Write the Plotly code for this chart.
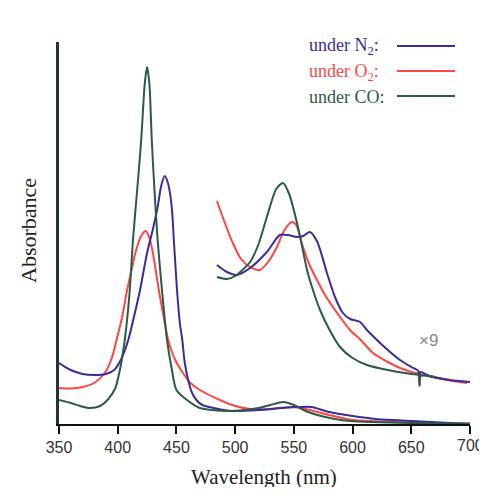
import plotly.graph_objects as go

# ---- main spectra (arbitrary absorbance units) ----
wl_n2 = [350, 360, 370, 380, 390, 397, 403, 409, 414, 419, 425, 430, 434, 437, 440, 443, 446, 448, 450.5,
         453, 455, 457, 460, 463, 467, 472, 478, 490, 500, 520, 540, 555, 565, 580, 600, 620, 650, 700]
ab_n2 = [0.61, 0.54, 0.50, 0.49, 0.50, 0.54, 0.65, 0.84, 1.08, 1.34, 1.71, 1.95, 2.17, 2.38, 2.48, 2.40, 2.17,
         1.80, 1.34, 1.00, 0.84, 0.62, 0.44, 0.32, 0.24, 0.19, 0.17, 0.14, 0.13, 0.14, 0.16, 0.17, 0.17, 0.12,
         0.08, 0.05, 0.03, 0.0]

wl_o2 = [350, 360, 370, 380, 389, 395, 399, 404, 408, 412, 415, 420, 424, 427, 430, 435, 439, 443, 449,
         455.6, 462, 470, 487, 500, 513, 530, 550, 560, 580, 600, 650, 700]
ab_o2 = [0.36, 0.355, 0.37, 0.41, 0.51, 0.66, 0.84, 1.08, 1.34, 1.55, 1.71, 1.88, 1.93, 1.86, 1.71, 1.34,
         1.08, 0.84, 0.64, 0.51, 0.41, 0.34, 0.24, 0.18, 0.15, 0.15, 0.17, 0.15, 0.09, 0.04, 0.015, 0.0]

wl_co = [350, 360, 368, 376, 385, 392, 398, 402, 406, 410, 413, 417, 420, 423, 425, 427, 429, 431, 434,
         438, 442, 446, 450, 459, 470, 480, 498, 520, 530, 541, 550, 560, 570, 585, 598, 650, 700]
ab_co = [0.24, 0.21, 0.18, 0.16, 0.18, 0.25, 0.36, 0.55, 0.84, 1.30, 1.84, 2.40, 2.84, 3.40, 3.57, 3.40,
         2.84, 2.40, 1.84, 1.30, 0.84, 0.55, 0.34, 0.24, 0.16, 0.14, 0.13, 0.16, 0.19, 0.22, 0.19, 0.13,
         0.09, 0.05, 0.03, 0.01, 0.005]

# ---- x9 expanded Q-band region ----
wl_n2_x9 = [484.5, 493, 501.6, 512.7, 527, 538, 545, 552.7, 558, 563.7, 570, 578.2, 585, 591.8, 598, 606.3,
            613, 620.8, 630, 640.4, 650, 656, 657, 658, 665, 683, 700]
ab_n2_x9 = [1.59, 1.52, 1.49, 1.56, 1.72, 1.89, 1.89, 1.87, 1.88, 1.92, 1.82, 1.51, 1.27, 1.11, 1.05, 1.02,
            0.93, 0.84, 0.74, 0.64, 0.57, 0.53, 0.46, 0.52, 0.48, 0.44, 0.42]

wl_o2_x9 = [484.5, 490, 498, 505, 512.7, 521.2, 528, 535.6, 542, 548.4, 552, 557.8, 563, 569.7, 576, 583.3,
            590, 597.8, 607, 617.4, 630, 640.4, 650, 656, 657, 658, 680, 697.4]
ab_o2_x9 = [2.23, 2.05, 1.81, 1.65, 1.57, 1.54, 1.62, 1.77, 1.94, 2.02, 1.99, 1.77, 1.60, 1.44, 1.30, 1.17,
            1.06, 0.94, 0.84, 0.71, 0.62, 0.56, 0.52, 0.50, 0.39, 0.49, 0.44, 0.41]

wl_co_x9 = [484.5, 493, 500, 512.7, 520, 527, 535, 540.8, 546, 552.7, 558, 561.2, 566, 572.3, 580, 589.3,
            600, 612.3, 630, 650, 656, 657, 658, 670]
ab_co_x9 = [1.47, 1.45, 1.48, 1.62, 1.80, 2.07, 2.35, 2.41, 2.30, 2.01, 1.72, 1.54, 1.35, 1.14, 0.95, 0.77,
            0.66, 0.59, 0.54, 0.50, 0.49, 0.38, 0.48, 0.47]

x_ticks = [350, 400, 450, 500, 550, 600, 650, 700]
x_tick_text = ["350", "400", "450", "500", "550", "600", "650", ""]  # last label drawn at the edge below
last_tick_label = "700"

C_N2 = "#3a2c9c"
C_O2 = "#ff4646"
C_CO = "#2c5a48"

fig = go.Figure()
for wl, ab, c in [(wl_o2, ab_o2, C_O2), (wl_n2, ab_n2, C_N2), (wl_co, ab_co, C_CO),
                  (wl_o2_x9, ab_o2_x9, C_O2), (wl_n2_x9, ab_n2_x9, C_N2), (wl_co_x9, ab_co_x9, C_CO)]:
    fig.add_trace(go.Scatter(x=wl, y=ab, mode="lines",
                             line=dict(color=c, width=2, shape="spline", smoothing=0.7),
                             showlegend=False, hoverinfo="skip"))

# the page body keeps its default 8px margin, so the figure is 16px smaller than the window
fig.update_layout(
    width=471, height=479,
    margin=dict(l=51, r=9, t=34, b=63),
    plot_bgcolor="white", paper_bgcolor="white",
    xaxis=dict(range=[350, 700], tickvals=x_ticks, ticktext=x_tick_text, showgrid=False, zeroline=False,
               showline=True, linecolor="#111", linewidth=1.5,
               ticks="outside", ticklen=8, tickwidth=1.5, tickcolor="#111",
               tickfont=dict(family="Liberation Sans, Arial", size=16, color="#333")),
    yaxis=dict(range=[0, 3.82], showticklabels=False, showgrid=False, zeroline=False,
               showline=True, linecolor="#243535", linewidth=2.5, ticks=""),
)

tick_font = dict(family="Liberation Sans, Arial", size=16, color="#333")
fig.add_annotation(text=last_tick_label, xref="paper", yref="paper", x=(486 - 59) / 411, y=(424 - 446) / 382,
                   showarrow=False, xanchor="right", yanchor="middle", font=tick_font)

# annotation positions below are page pixels relative to the plot area (x 59..470, y 42..424)
serif = "Liberation Serif, Times New Roman, serif"
fig.add_annotation(text="Wavelength (nm)", xref="paper", yref="paper", x=(264 - 59) / 411, y=(424 - 477) / 382,
                   showarrow=False, font=dict(family=serif, size=21, color="#222"),
                   xanchor="center", yanchor="middle")
fig.add_annotation(text="Absorbance", xref="paper", yref="paper", x=(28 - 59) / 411, y=(424 - 231) / 382,
                   showarrow=False, textangle=-90, font=dict(family=serif, size=22, color="#222"),
                   xanchor="center", yanchor="middle")

legend_rows = [("under N<sub>2</sub>:", C_N2, 47), ("under O<sub>2</sub>:", C_O2, 72), ("under CO:", C_CO, 97)]
for txt, c, py in legend_rows:
    yp = (424 - py) / 382
    fig.add_annotation(text=txt, xref="paper", yref="paper", x=(307 - 59) / 411, y=yp,
                       showarrow=False, xanchor="left", yanchor="middle",
                       font=dict(family=serif, size=18, color=c))
    fig.add_shape(type="line", xref="paper", yref="paper", x0=(397 - 59) / 411, x1=(455 - 59) / 411,
                  y0=(424 - py + 1) / 382, y1=(424 - py + 1) / 382, line=dict(color=c, width=2))

fig.add_annotation(text="×9", xref="paper", yref="paper", x=(440 - 59) / 411, y=(424 - 352) / 382,
                   showarrow=False, font=dict(family="Liberation Sans, Arial", size=17, color="#888"))

fig.write_html("out.html", config={"displayModeBar": False})
